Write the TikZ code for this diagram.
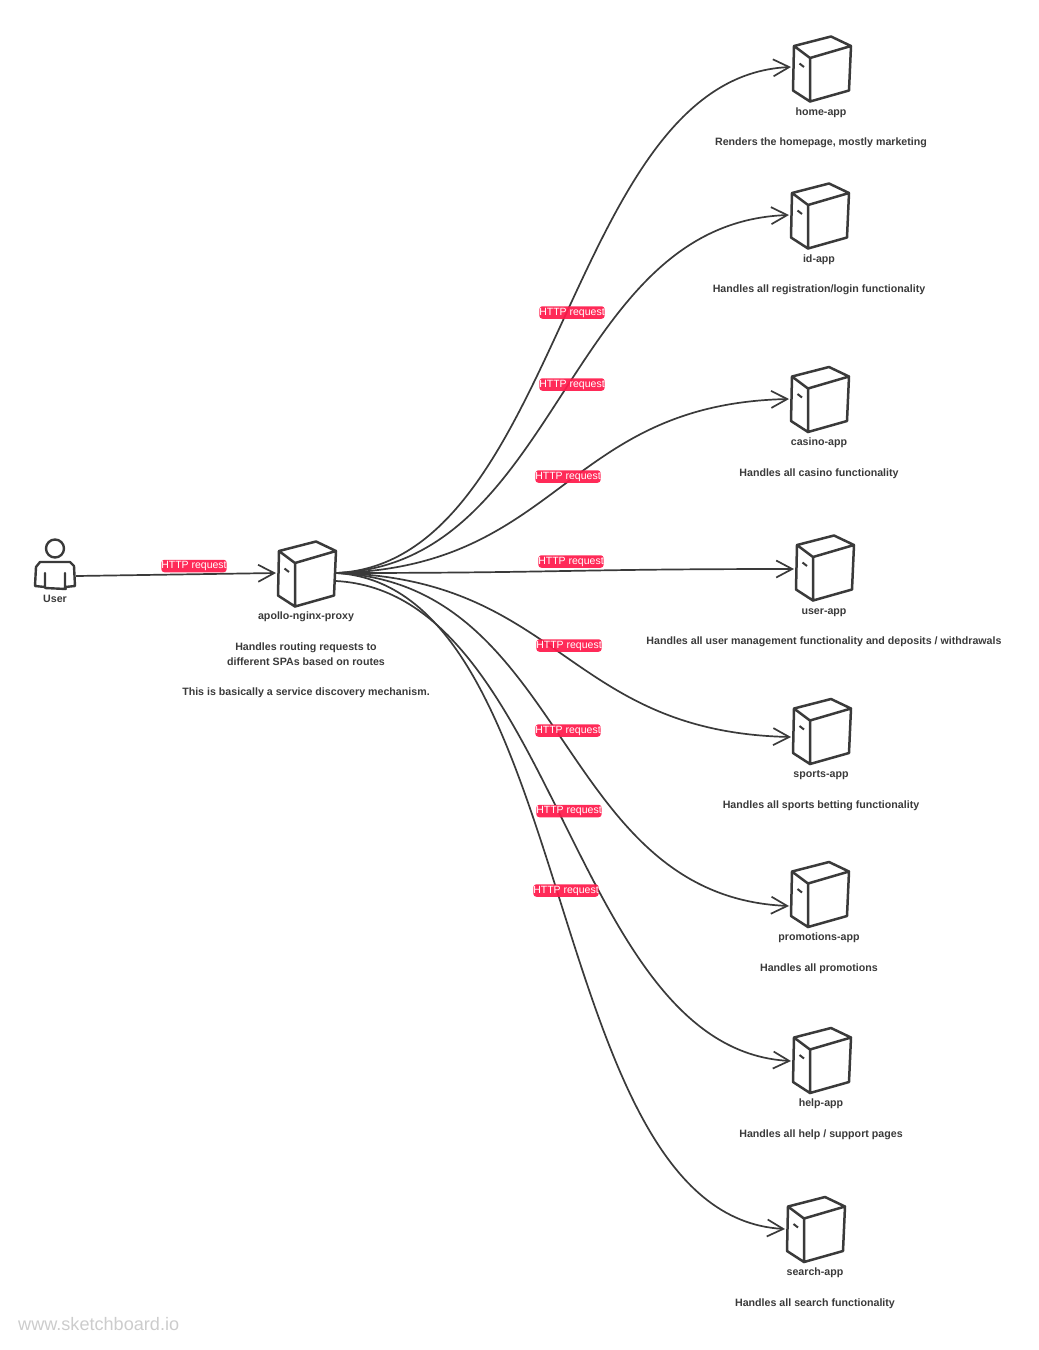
\documentclass[tikz,border=0pt]{standalone}
\usepackage{fontspec}
\setmainfont{Liberation Sans}
\usepackage{xcolor}
\usetikzlibrary{positioning}
\usetikzlibrary{arrows.meta}
\definecolor{inkgray}{HTML}{3A3A3A}
\definecolor{httpred}{HTML}{FF1A4B}
\definecolor{markgray}{HTML}{CCCCCC}
\tikzset{
  servernode/.style={minimum width=62pt, minimum height=66pt, inner sep=0pt},
  titletext/.style={font=\fontsize{10.65}{12}\selectfont\bfseries, text=inkgray, inner sep=0pt, text height=8pt, text depth=2pt},
  flow/.style={draw=inkgray, line width=1.7pt, -{Straight Barb[length=16pt, width=17pt, line width=1.7pt]}},
  httplabel/.style={fill=httpred, fill opacity=0.93, text opacity=1, text=white, rounded corners=3pt,
    font=\fontsize{10.5}{12}\selectfont, inner xsep=0pt, inner ysep=0pt, minimum width=65pt, minimum height=12.5pt},
  pics/servershape/.style={code={
    \draw[inkgray, line width=2.5pt, line join=round, line cap=round]
      (-28,-23) -- (9,-32.5) -- (29,-23) -- (27,21.5) -- (-12,32.5) -- (-29,21.5) -- cycle
      (-28,-23) -- (-12,-11) -- (-12,32.5)
      (-12,-11) -- (29,-23);
    \draw[inkgray, line width=2pt] (-22.5,-5.5) -- (-18,-2);
  }}
}
\begin{document}
\begin{tikzpicture}[x=1pt, y=-1pt]
\useasboundingbox (0,0) rectangle (1039,1350);

% user
\node (user) [minimum width=42pt, minimum height=50pt, inner sep=0pt] at (55,576) {};
\draw[inkgray, line width=2.4pt] (55,548.5) circle (9pt);
\draw[inkgray, line width=2.4pt, line join=round, line cap=round]
  (45,573) -- (45,587) -- (35,586) -- (36,567) -- (40,562) -- (70,562) -- (74,566) -- (75,586) -- (65,587) -- (65,573)
  (45,588) -- (66,589);
\node (usertitle) [titletext] at (55,599) {User};

% proxy
\node (proxy) [servernode] at (307,574) {};
\pic at (proxy.center) {servershape};
\coordinate (proxyin) at (276,573);
\coordinate (proxyout) at (336,573);
\coordinate (proxylow) at (336,581);
\node (proxytitle) [titletext] at (306,616) {apollo-nginx-proxy};
\node (proxyline1) [titletext] at (306,647) {Handles routing requests to};
\node (proxyline2) [titletext] at (306,662) {different SPAs based on routes};
\node (proxyline3) [titletext] at (306,692) {This is basically a service discovery mechanism.};

% apps
\foreach \name/\x/\y/\tipy/\apptitle/\appdesc in {
  home/822/69/67/home-app/{Renders the homepage, mostly marketing},
  id/820/216/215/id-app/{Handles all registration/login functionality},
  casino/820/399.5/399/casino-app/{Handles all casino functionality},
  user/825/568/569/user-app/{Handles all user management functionality and deposits / withdrawals},
  sports/822/731.5/737/sports-app/{Handles all sports betting functionality},
  promotions/820/894.5/906/promotions-app/{Handles all promotions},
  help/822/1060.5/1061/help-app/{Handles all help / support pages},
  search/816/1229.5/1229/search-app/{Handles all search functionality}}
{
  \node (\name app) [servernode] at (\x,\y) {};
  \pic at (\name app.center) {servershape};
  \coordinate (\name in) at (\x-31,\tipy);
  \node (\name title) [titletext] at (\x-1,\y+43) {\apptitle};
  \node (\name desc) [titletext] at (\x-1,\y+73.5) {\appdesc};
}

% connectors
\draw[flow] (user.east) -- (proxyin);
\foreach \name/\from/\ax/\dy in {
  home/proxyout/225/-10, id/proxyout/225/-8, casino/proxyout/225/-5, user/proxyout/225/0,
  sports/proxyout/225/5, promotions/proxyout/233/10, help/proxylow/221/12, search/proxyout/245/14}
{
  \draw[flow] (\from) .. controls +(\ax,\dy) and +(-\ax,-\dy) .. (\name in);
}

% labels
\foreach \name/\x/\y in {
  usr/194/566, home/572/312.5, id/572/384.5, casino/568/476.5, user/571/561.5,
  sports/569/645.5, promotions/568/730.5, help/569/811, search/566/890.5}
{
  \node (\name label) [httplabel] at (\x,\y) {HTTP request};
}

\node (watermark) [anchor=west, inner sep=0pt, text=markgray, font=\fontsize{18.1}{20}\selectfont] at (18,1324) {www.sketchboard.io};
\end{tikzpicture}
\end{document}
